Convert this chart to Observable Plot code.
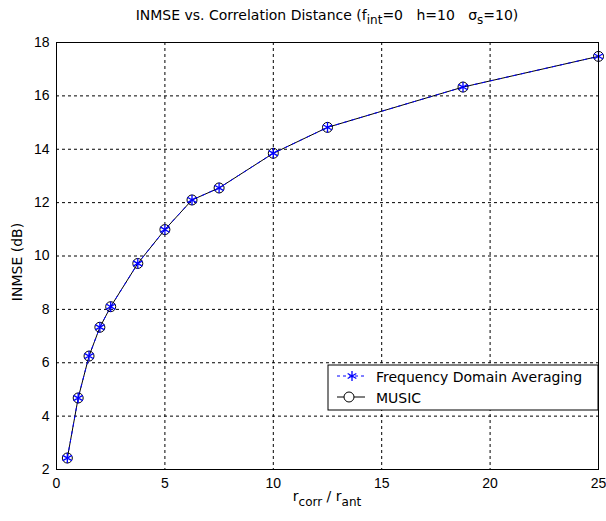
<!DOCTYPE html>
<html>
<head>
<meta charset="utf-8">
<script src="https://cdn.jsdelivr.net/npm/d3@7"></script>
<script src="https://cdn.jsdelivr.net/npm/@observablehq/plot@0.6"></script>
<style>
  body { margin: 0; background: #fff; }
  #chart svg { display: block; }
</style>
</head>
<body>
<div id="chart"></div>
<script>
// Data
const ratio = [0.5, 1, 1.5, 2, 2.5, 3.75, 5, 6.25, 7.5, 10, 12.5, 18.75, 25];
const fdaValues = [2.43, 4.68, 6.25, 7.33, 8.1, 9.72, 10.99, 12.1, 12.55, 13.85, 14.82, 16.33, 17.48];
const musicValues = [2.43, 4.68, 6.25, 7.33, 8.1, 9.72, 10.99, 12.1, 12.55, 13.85, 14.82, 16.33, 17.48];
const xTicks = [0, 5, 10, 15, 20, 25];
const yTicks = [2, 4, 6, 8, 10, 12, 14, 16, 18];
const seriesNames = ["Frequency Domain Averaging", "MUSIC"];

const fda = ratio.map((r, i) => ({x: r, y: fdaValues[i]}));
const music = ratio.map((r, i) => ({x: r, y: musicValues[i]}));

const W = 606, H = 521;
const mL = 56, mR = 8, mT = 42, mB = 52;
const tickFont = "Liberation Sans, Arial, sans-serif";
const font = "DejaVu Sans, sans-serif";

const chart = Plot.plot({
  width: W,
  height: H,
  marginLeft: mL,
  marginRight: mR,
  marginTop: mT,
  marginBottom: mB,
  style: {fontFamily: tickFont, fontSize: "14px", color: "black", background: "white"},
  x: {domain: [0, 25], label: null},
  y: {domain: [2, 18], label: null},
  marks: [
    Plot.gridX(xTicks.slice(1, -1), {stroke: "black", strokeOpacity: 1, strokeDasharray: "3,3", strokeWidth: 1}),
    Plot.gridY(yTicks.slice(1, -1), {stroke: "black", strokeOpacity: 1, strokeDasharray: "3,3", strokeWidth: 1}),
    Plot.axisX(xTicks, {tickSize: 0, tickPadding: 9, fontSize: 14, fontFamily: tickFont}),
    Plot.axisY(yTicks, {tickSize: 0, tickPadding: 7, fontSize: 14, fontFamily: tickFont}),
    Plot.line(music, {x: "x", y: "y", stroke: "black", strokeWidth: 1}),
    Plot.line(fda, {x: "x", y: "y", stroke: "#0000ff", strokeWidth: 1, strokeDasharray: "3,5"}),
    Plot.dot(music, {x: "x", y: "y", symbol: "circle", r: 5, stroke: "black", fill: "none", strokeWidth: 1}),
    Plot.dot(fda, {x: "x", y: "y", symbol: "asterisk", r: 5, stroke: "#0000ff", strokeWidth: 1.3}),
    Plot.frame({stroke: "black", strokeWidth: 1})
  ]
});

document.getElementById("chart").appendChild(chart);

const svg = d3.select(chart);

// Title with subscripts
const title = svg.append("text")
  .attr("x", 327).attr("y", 20)
  .attr("text-anchor", "middle")
  .attr("font-family", font).attr("font-size", 14)
  .attr("fill", "black")
  .style("white-space", "pre");
title.append("tspan").text("INMSE vs. Correlation Distance (f");
title.append("tspan").attr("dy", 4).attr("font-size", 12).text("int");
title.append("tspan").attr("dy", -4).text("=0   h=10   \u03C3");
title.append("tspan").attr("dy", 4).attr("font-size", 12).text("s");
title.append("tspan").attr("dy", -4).text("=10)");

// X label with subscripts
const xl = svg.append("text")
  .attr("x", 327).attr("y", 501)
  .attr("text-anchor", "middle")
  .attr("font-family", font).attr("font-size", 14)
  .attr("fill", "black")
  .style("white-space", "pre");
xl.append("tspan").text("r");
xl.append("tspan").attr("dy", 5).attr("font-size", 12).text("corr");
xl.append("tspan").attr("dy", -5).text(" / r");
xl.append("tspan").attr("dy", 5).attr("font-size", 12).text("ant");

// Y label
svg.append("text")
  .attr("transform", "translate(22,262) rotate(-90)")
  .attr("text-anchor", "middle")
  .attr("font-family", font).attr("font-size", 14)
  .attr("fill", "black")
  .text("INMSE (dB)");

// Legend
const lg = svg.append("g").attr("transform", "translate(328,365)");
lg.append("rect").attr("width", 270).attr("height", 45)
  .attr("fill", "white").attr("stroke", "black");
// entry 1
lg.append("line").attr("x1", 9).attr("x2", 37).attr("y1", 11).attr("y2", 11)
  .attr("stroke", "#0000ff").attr("stroke-dasharray", "3,3");
lg.append("path").attr("transform", "translate(24,11)")
  .attr("d", d3.symbol(d3.symbolAsterisk, 70)())
  .attr("stroke", "#0000ff").attr("fill", "none").attr("stroke-width", 1.3);
lg.append("text").attr("x", 48).attr("y", 17)
  .attr("text-anchor", "start")
  .attr("font-family", font).attr("font-size", 14).attr("fill", "black")
  .text(seriesNames[0]);
// entry 2
lg.append("line").attr("x1", 9).attr("x2", 37).attr("y1", 32).attr("y2", 32)
  .attr("stroke", "black");
lg.append("circle").attr("cx", 21).attr("cy", 32).attr("r", 5)
  .attr("stroke", "black").attr("fill", "white");
lg.append("text").attr("x", 48).attr("y", 38)
  .attr("text-anchor", "start")
  .attr("font-family", font).attr("font-size", 14).attr("fill", "black")
  .text(seriesNames[1]);
</script>
</body>
</html>
